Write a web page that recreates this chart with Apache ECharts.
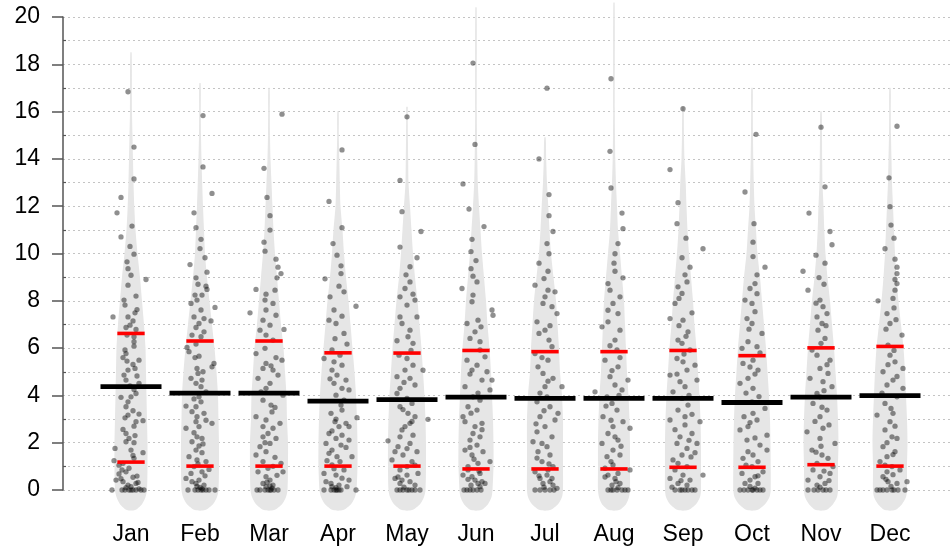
<!DOCTYPE html>
<html><head><meta charset="utf-8">
<script src="https://cdn.jsdelivr.net/npm/echarts/dist/echarts.min.js"></script>
<style>html,body{margin:0;padding:0;background:#fff}#c{width:952px;height:552px}</style>
</head><body><div id="c"></div>
<script>
const months = ['Jan','Feb','Mar','Apr','May','Jun','Jul','Aug','Sep','Oct','Nov','Dec'];
const yTicks = [0,2,4,6,8,10,12,14,16,18,20];
const meanValues  = [4.37,4.10,4.10,3.76,3.82,3.93,3.87,3.87,3.87,3.70,3.93,3.99];
const lowerValues = [1.18,1.01,1.01,1.01,1.01,0.89,0.89,0.89,0.96,0.96,1.07,1.01];
const upperValues = [6.62,6.30,6.30,5.80,5.79,5.90,5.85,5.85,5.90,5.68,6.01,6.07];
const maxValues   = [18.5,17.2,17.0,16.0,16.2,20.4,14.9,20.6,16.2,17.0,16.0,17.0];

// violin density profile (arbitrary units) at these value levels
const densityLevels = [-0.85,-0.6,-0.3,0,1,2,3,4,5,6,7,8,9,10,11,12,13,14,15,16];
const densJan = [4,11,14.5,16,16.5,16.5,16,15.5,15,14.5,13,11,9,6.5,4.5,3.3,2.5,2,1.5,1];
const densFeb = [5,13,17,18.5,19,19,18.5,18,16.5,14.5,12,9.5,7,5,4,3,2.2,1.5,1,0.8];
const densMar = [5,13,17,18.5,19,19,18,17.5,16,14.5,12,10,8,6,4.5,3.5,2.5,1.5,1,0.8];
const densApr = [5,13,17,18.5,19.5,19.5,19,18,16.5,14.5,12.5,10.5,8,6,4.5,2.5,1.8,1.3,0.8,0.7];
const densMay = [5,13,17,18.5,19,19,18.5,17.5,16,14.5,12.5,10.5,8,6,4.5,3,1.5,1.2,0.9,0.7];
const densJun = [5,12,15.5,16.5,17.5,17.5,17,16,15,13.5,11.5,10,8,6,4.5,3,1.8,1.3,1,0.8];
const densJul = [5,13,17,18,18,18,18,17,15,14,12.5,11,8.5,6,4.5,3.3,2,1.2,0.8,0.7];
const densAug = [5,12,15,16,16,16,15.5,14.5,13,12,11,10,8,6,4,3,2,1.3,1,0.8];
const densSep = [5,13,17,18,18,18,17.5,16.5,15,13.5,11.5,10,8,6,4.5,3.5,2.7,1.5,1,0.8];
const densOct = [5,13,17.5,18.7,18.7,18.5,18,17,15.5,14,12,10,8,5.5,4,2.5,1.8,1.3,1,0.8];
const densNov = [5,12,16,17,17,17.5,17,16,14.5,13,11,9,6.5,4.5,3.3,2.5,1.5,1.2,1,0.8];
const densDec = [5,12,16,17,17,17.5,17,16,15,13.5,11,8.5,6.5,5,4,3,2,1.5,1,0.8];
const densTail = 0.7;

// observations: [value, horizontal jitter]
const ptsJan = [[16.84,-3],[14.5,3],[13.15,3],[12.37,-10],[11.72,-14],[11.16,1],[10.7,-10],[10.3,-1],[9.97,3],[9.65,-4],[9.36,-3],[9.08,0],[8.9,15],
[8.66,-3],[8.2,5],[8.03,-7],[7.82,-6],[7.63,6],[7.49,4],[7.32,-18],[7.32,-3],[7.15,2],[6.97,-1],[6.87,-5],[6.79,5],[6.55,-4],[6.48,3],[6.27,3],[6.08,3],[5.92,-6],[5.77,-5],[5.6,-8],[5.49,8],[5.31,2],[5.14,4],[5.07,-3],[4.82,6],[4.86,-7],[4.65,-5],[4.51,8],[4.25,3],[4.08,5],[3.92,-10],[3.94,0],[3.73,-3],[3.52,-5],[3.35,2],[3.21,8],[3.17,-3],[2.93,12],[2.89,5],[2.7,3],[2.56,-8],[2.39,-5],[2.18,-2],[2.04,-5],[2.0,3],[1.76,-16],[1.69,0],[1.58,12],[1.46,2],[1.34,3],[1.24,-17],[1.13,-8],[0.92,-2],[0.77,-5],[0.68,-12],[0.59,6],[0.54,2],[0.42,-15],[0.35,-8],[0.28,5],[0.21,-3],[0,-19],[0,-6],[0,-2],[0,2],[0,5],[0,10],[0,13],[0.14,0],
[5.45,-4],[4.4,-1],[3.05,-6],[2.3,4],[1.05,-12],[0.85,-9],[0.48,-10],[0.32,7],[0.1,-5],[0.05,8],[0,0],[0,-9]];
const ptsFeb = [[15.83,3],[13.66,3],[12.54,12],[11.72,-6],[11.09,-4],[10.6,1],[10.21,0],[9.82,5],[9.53,-10],[9.21,7],[8.97,-4],
[8.48,7],[8.7,-2],[8.62,6],[8.24,2],[8.24,-5],[8.03,-3],[7.72,15],[7.89,-9],[7.61,1],[7.32,-6],[7.25,4],[7.15,11],[7.04,-1],[6.87,-4],[6.69,4],[6.55,-8],[6.48,1],[6.17,-4],[6.03,-13],[5.85,-11],[5.66,-1],[5.6,-5],[5.35,14],[5.21,12],[5.14,-3],[4.93,-2],[4.72,-9],[4.65,2],[4.51,-4],[4.37,1],[4.15,6],[3.94,-1],[3.73,1],[3.55,-14],[3.52,-4],[3.31,-8],[3.24,4],[3.1,-3],[2.89,-4],[2.82,12],[2.68,-1],[2.61,-14],[2.42,-6],[2.25,-3],[2.18,2],[2.04,-8],[1.86,-1],[1.69,-4],[1.58,2],[1.41,-11],[1.27,-3],[1.2,6],[0.99,-6],[0.87,9],[0.77,2],[0.7,-9],[0.49,-14],[0.42,-1],[0.28,-4],[0.21,4],[0,-12],[0,-2],[0,1],[0,3],[0,6],[0,15],[0.11,0],
[5.0,3],[3.85,-6],[2.95,6],[1.95,3],[1.1,-2],[0.6,5],[0.35,-8],[0.15,-3],[0.05,2],[0,-5],[0,9]];
const ptsMar = [[15.89,13],[13.6,-5],[12.37,-2],[11.6,1],[10.99,1],[10.48,-5],[10.1,-4],[9.76,7],[9.42,9],[9.15,12],[8.97,8],
[8.48,-13],[8.28,-3],[8.45,6],[8.03,-4],[7.89,4],[7.49,-19],[7.61,-3],[7.39,7],[6.79,15],[7.18,-6],[6.97,1],[6.76,-9],[6.55,-3],[6.34,4],[5.99,-4],[5.77,-13],[5.6,7],[5.49,13],[5.35,-3],[5.14,-6],[5.07,4],[4.86,9],[4.72,-11],[4.51,1],[4.3,-3],[4.01,14],[3.8,-6],[3.59,2],[3.49,6],[3.1,-13],[2.96,-3],[2.82,11],[2.68,-6],[2.61,4],[2.39,-1],[2.25,-6],[2.18,7],[1.97,1],[1.83,-9],[1.62,-3],[1.48,-13],[1.38,6],[1.2,-6],[1.13,12],[0.92,-1],[0.77,-11],[0.77,14],[0.56,-3],[0.42,1],[0.28,-6],[0.21,4],[0,-9],[0,-4],[0,-1],[0,1],[0,2],[0,5],[0.14,-3],[0.17,1],
[5.25,2],[4.15,-8],[3.3,3],[2.0,-4],[1.0,4],[0.62,8],[0.33,-2],[0.08,3],[0,-12],[0,9]];
const ptsApr = [[14.38,4],[12.2,-9],[11.09,4],[10.42,-5],[9.93,-1],[9.48,3],[9.15,3],[8.93,-13],
[8.62,1],[8.38,6],[8.17,-8],[7.77,18],[7.61,-4],[7.35,4],[7.18,-9],[7.04,-2],[6.62,6],[6.17,9],[5.92,-6],[5.56,-14],[5.42,-4],[5.28,4],[5.07,-6],[4.86,-1],[4.65,8],[4.51,-4],[4.3,4],[4.23,11],[4.01,-2],[3.59,3],[3.38,4],[3.24,-7],[3.06,19],[2.89,-3],[2.82,8],[2.68,1],[2.68,11],[2.39,-9],[2.32,4],[2.18,-2],[2.11,11],[1.97,-12],[1.9,3],[1.69,-6],[1.55,-9],[1.41,-1],[1.41,14],[1.24,-11],[1.06,-6],[0.85,6],[0.7,-14],[0.63,-2],[0.42,11],[0.35,-12],[0.28,-7],[0.21,1],[0,-14],[0,-7],[0,-4],[0,-2],[0,-1],[0,1],[0,18],[0.14,9],[0.14,-6],
[6.4,-3],[5.7,2],[4.7,-8],[3.8,6],[3.0,-2],[2.5,-6],[1.8,8],[1.2,2],[0.9,-4],[0.5,4],[0.1,-2],[0,3]];
const ptsMay = [[15.78,0],[13.09,-7],[11.77,-5],[10.93,14],[10.27,-7],[9.82,10],[9.44,3],[9.1,-1],
[8.8,3],[8.28,6],[8.17,-7],[8.03,8],[7.82,0],[7.32,-7],[7.32,10],[6.76,3],[6.31,-10],[6.2,6],[5.7,-8],[5.56,0],[5.28,6],[5.07,16],[4.79,-10],[4.72,3],[4.44,8],[4.3,-7],[3.87,0],[3.66,5],[2.99,21],[3.52,-7],[3.24,1],[3.1,8],[2.68,-2],[2.54,-5],[2.08,-19],[2.32,6],[1.83,-9],[1.97,3],[1.62,-12],[1.62,10],[1.48,-4],[1.27,-15],[1.2,5],[0.85,-7],[0.7,11],[0.49,-12],[0.63,0],[0.35,3],[0.28,-7],[0.21,8],[0,-4],[0,0],[0,2],[0,5],[0,-10],[0,13],
[8.52,-2],[7.04,-5],[6.48,1],[5.07,-2],[4.08,-10],[2.82,3],[2.25,-7],[0.99,0],[0.42,-5],
[5.9,4],[4.55,-3],[3.4,-4],[2.9,5],[1.75,0],[1.05,8],[0.55,-9],[0.12,-3],[0,-7],[0,8]];
const ptsJun = [[18.05,-3],[14.61,-1],[12.94,-13],[11.88,-7],[11.14,8],[10.6,-4],[10.08,-5],[9.7,0],[9.36,-5],[9.04,-3],
[8.52,-14],[8.8,1],[8.24,-3],[7.61,16],[7.39,17],[7.04,-9],[7.18,2],[6.69,-1],[6.41,-6],[6.27,4],[5.63,9],[5.49,-9],[5.28,1],[5.07,-4],[5.0,11],[4.65,6],[4.65,16],[4.37,-11],[4.23,14],[3.94,-3],[3.8,4],[3.52,-8],[3.38,1],[2.89,-11],[2.82,6],[2.39,-3],[2.25,4],[2.11,-6],[1.9,1],[1.69,-11],[1.62,7],[1.48,-4],[1.2,14],[1.13,2],[0.85,-8],[0.7,4],[0.56,-4],[0.42,-1],[0.35,6],[0.63,-13],[0,-9],[0,-6],[0,-3],[0.28,2],[0.28,9],[0.14,4],
[7.96,-4],[5.92,4],[3.1,-13],[2.68,-1],[0.99,-8],[0,1],
[6.9,5],[4.9,-6],[4.1,2],[3.25,-5],[2.55,6],[1.8,-6],[1.3,-2],[0.8,3],[0.45,-8],[0.2,-5],[0,-12],[0,5]];
const ptsJul = [[16.99,2],[14.0,-6],[12.49,4],[11.6,4],[10.93,8],[10.42,2],[9.99,4],[9.59,-6],[9.25,3],[8.94,-1],
[8.66,-10],[8.45,3],[8.38,10],[8.17,0],[7.11,-8],[7.75,7],[7.46,12],[6.76,0],[6.62,-6],[6.34,4],[6.06,7],[5.49,3],[5.21,-7],[4.93,-2],[4.72,8],[4.37,17],[4.37,0],[3.73,-8],[3.52,5],[3.24,13],[3.1,-5],[2.96,10],[2.68,0],[2.46,-8],[2.25,7],[1.97,-3],[1.83,2],[1.62,-7],[1.48,5],[1.2,-3],[0.99,8],[0.77,-10],[0.63,2],[0.49,-5],[0.49,7],[0.28,-2],[0,-10],[0,-5],[0,0],[0,5],[0.21,8],
[7.89,-2],[5.77,-10],[3.94,2],[2.04,-12],[0.85,3],[0.07,12],
[6.95,5],[5.6,-3],[4.6,3],[4.1,-5],[3.35,-1],[2.8,-9],[1.35,-8],[1.1,4],[0.6,-6],[0.35,5],[0.12,-1],[0,9]];
const ptsAug = [[17.39,-3],[14.32,-4],[12.77,-3],[11.71,8],[11.05,9],[10.42,4],[9.99,1],[9.59,0],[9.25,1],[8.97,9],
[8.45,-4],[8.17,6],[7.89,-1],[7.46,4],[7.11,-6],[6.9,-12],[6.76,6],[6.34,1],[5.49,-9],[5.21,4],[4.65,14],[4.79,-4],[4.44,1],[4.23,8],[4.15,-19],[3.66,-2],[3.38,3],[2.89,9],[3.1,-11],[2.68,-1],[2.61,16],[2.39,-6],[2.11,4],[1.97,-12],[1.69,-1],[1.48,6],[1.41,-7],[1.06,-1],[0.85,16],[0.7,4],[0.63,-6],[0.49,1],[0.28,6],[0.21,-2],[0,-6],[0,-1],[0,3],[0,8],[0,14],
[8.73,-6],[5.92,3],[3.94,-7],[2.25,1],[0.92,-9],
[7.6,-6],[6.1,-4],[5.6,6],[5.05,-2],[4.0,5],[3.55,-8],[2.95,-3],[1.85,7],[1.2,-3],[0.55,-9],[0.35,2],[0.1,4],[0,-3],[0,11]];
const ptsSep = [[16.12,0],[13.55,-13],[12.15,-5],[11.26,-6],[10.65,3],[10.2,20],[9.82,-1],[9.42,7],[9.1,2],
[8.8,4],[8.31,-1],[8.1,-4],[7.89,-8],[7.49,9],[7.25,-13],[7.18,0],[6.69,5],[6.34,-5],[6.2,-1],[5.56,-6],[5.42,0],[5.28,12],[5.07,4],[4.86,-13],[4.65,14],[4.58,-3],[4.37,2],[4.15,-10],[3.87,-1],[3.59,5],[3.38,-5],[2.96,-13],[2.89,17],[2.75,2],[2.39,9],[2.25,-3],[1.97,14],[1.97,-6],[1.76,4],[1.58,12],[1.48,-1],[1.27,-10],[0.99,4],[0.63,20],[0.49,-13],[0.63,0],[0.42,7],[0.28,-5],[0,-8],[0,-3],[0,2],[0,5],[0,9],[0.21,4],
[8.59,-5],[5.92,7],[3.1,2],[1.13,-5],
[6.95,-4],[6.5,3],[5.75,1],[4.9,-6],[4.0,6],[3.2,9],[2.55,-8],[2.1,6],[1.4,8],[0.85,-8],[0.4,-2],[0.12,-11],[0,-1],[0,12]];
const ptsOct = [[15.04,4],[12.6,-7],[11.26,2],[10.48,1],[9.87,1],[9.42,13],[9.1,5],
[8.73,3],[8.52,-2],[8.03,-7],[7.89,0],[7.54,3],[7.25,-5],[6.62,10],[6.27,-4],[5.99,-10],[6.06,5],[5.49,1],[5.35,-9],[5.07,6],[4.72,-4],[4.51,-12],[4.3,1],[3.45,13],[3.24,1],[2.96,5],[2.68,-4],[2.32,15],[2.11,-5],[1.9,8],[1.69,15],[1.62,-4],[1.34,-9],[1.2,6],[0.99,0],[0.7,-10],[0.77,11],[0.56,3],[0.42,-2],[0.28,-7],[0.28,6],[0,1],[0,0],[0,-4],[0,5],[0,-12],[0,11],
[7.04,0],[3.73,0],[2.54,-12],[1.48,1],
[8.3,5],[6.8,-3],[5.8,8],[5.2,-2],[4.9,3],[4.1,-6],[3.95,7],[3.1,-8],[2.85,-2],[2.2,3],[1.05,-6],[0.6,6],[0.15,-2],[0.08,3],[0,-8],[0,8]];
const ptsNov = [[15.34,0],[12.82,4],[11.71,-12],[10.93,9],[10.37,11],[9.93,-5],[9.59,4],[9.25,-18],[8.98,-2],
[8.45,-13],[8.03,-1],[7.75,2],[7.46,6],[7.04,1],[6.76,-3],[6.41,4],[5.92,-9],[5.49,9],[5.14,-1],[4.72,-11],[4.58,2],[4.37,11],[4.08,-4],[3.66,-8],[3.38,6],[3.1,-1],[2.46,-14],[2.61,2],[1.97,14],[1.69,-9],[1.48,1],[1.34,7],[1.13,-4],[0.85,-8],[0.7,9],[0.56,-1],[0.42,-13],[0.28,4],[0.21,-4],[0,-13],[0,-3],[0,2],[0,9],
[7.32,-4],[4.93,7],[2.18,-1],[0.99,12],[3.94,-1],
[8.7,3],[7.9,-5],[6.95,5],[6.2,0],[5.7,-4],[5.3,6],[4.2,3],[3.5,1],[2.9,-6],[2.75,8],[1.85,0],[1.6,-5],[0.8,3],[0.4,8],[0.12,-1],[0,5],[0,-7]];
const ptsDec = [[15.38,7],[13.2,-1],[11.98,0],[11.2,1],[10.65,4],[10.2,-5],[9.76,5],[9.42,7],[9.15,7],[8.9,5],
[8.73,7],[8.45,5],[8.1,3],[8.0,-12],[7.46,-3],[7.04,0],[6.55,12],[5.7,0],[5.42,5],[5.14,13],[5.0,-7],[4.65,3],[4.44,-3],[4.3,13],[3.66,-5],[3.24,3],[3.17,-13],[2.89,0],[2.54,-5],[2.18,7],[1.83,-7],[1.62,5],[1.41,-3],[1.2,-10],[0.99,2],[0.77,-3],[0.56,-7],[0.35,17],[0.35,-2],[0.28,7],[0,-13],[0,-7],[0,-3],[0,2],[0,8],[0,15],
[6.13,-2],[3.94,7],[2.25,2],[0.85,10],
[7.7,4],[7.2,6],[6.8,-4],[5.9,4],[5.3,-2],[4.8,7],[4.1,-8],[3.45,1],[2.7,5],[2.0,-3],[1.5,3],[1.05,-5],[0.65,3],[0.45,-4],[0.15,1],[0,4],[0,-10]];

const densities = [densJan,densFeb,densMar,densApr,densMay,densJun,densJul,densAug,densSep,densOct,densNov,densDec];
const points = [ptsJan,ptsFeb,ptsMar,ptsApr,ptsMay,ptsJun,ptsJul,ptsAug,ptsSep,ptsOct,ptsNov,ptsDec];

const DENS_SCALE = 1/69;   // density unit -> fraction of category band
const JITTER_SCALE = 1/69; // jitter unit -> fraction of category band
const FONT = 'Liberation Sans, Arial, sans-serif';

const scatterData = [];
points.forEach((arr, i) => arr.forEach(p => scatterData.push([i + p[1]*JITTER_SCALE, p[0]])));

function violinItem(params, api) {
  const i = api.value(0);
  const dens = densities[i], top = maxValues[i];
  const left = [], right = [];
  for (let k = 0; k < densityLevels.length; k++) {
    const y = densityLevels[k];
    if (y >= top) break;
    const h = dens[k] * DENS_SCALE;
    left.push(api.coord([i - h, y]));
    right.push(api.coord([i + h, y]));
  }
  const ht = densTail * DENS_SCALE;
  left.push(api.coord([i - ht, top]));
  right.push(api.coord([i + ht, top]));
  const pts = left.concat(right.reverse());
  return {type:'polygon', shape:{points:pts, smooth:0.25}, style:{fill:'#e6e6e6', stroke:null}};
}

function barLine(v, i, api, frac, thick, color) {
  const c = api.coord([i, v]);
  const w = api.size([1, 0])[0] * frac;
  return {type:'rect', shape:{x:c[0]-w/2, y:c[1]-thick/2, width:w, height:thick}, style:{fill:color}};
}

const chart = echarts.init(document.getElementById('c'), null, {renderer:'canvas'});
chart.setOption({
  animation:false,
  backgroundColor:'#fff',
  grid:[
    {left:63, right:2, top:17, bottom:62},
    {left:96.5, right:27.5, top:17, bottom:62}
  ],
  xAxis:[
    {gridIndex:0, type:'value', min:0, max:1, show:false},
    {gridIndex:1, type:'category', data:months, boundaryGap:true,
      axisLine:{show:false}, axisTick:{show:false}, splitLine:{show:false},
      axisLabel:{fontSize:23, color:'#000', margin:33, fontFamily:FONT}},
    {gridIndex:1, type:'value', min:-0.5, max:11.5, show:false}
  ],
  yAxis:[
    {gridIndex:0, type:'value', position:'left', min:yTicks[0], max:yTicks[yTicks.length-1], interval:2,
      axisLine:{show:true, lineStyle:{color:'#555', width:1.5}},
      axisTick:{show:true, length:11, lineStyle:{color:'#555', width:1.5}},
      axisLabel:{fontSize:23, color:'#000', margin:23, fontFamily:FONT},
      splitLine:{show:true, lineStyle:{color:'#c4c4c4', width:1, type:[2,3]}},
      minorTick:{show:false, splitNumber:2},
      minorSplitLine:{show:true, lineStyle:{color:'#c4c4c4', width:1, type:[2,3]}}},
    {gridIndex:1, type:'value', min:0, max:20, show:false},
    {gridIndex:0, type:'value', position:'left', offset:0, min:yTicks[0], max:yTicks[yTicks.length-1], interval:2,
      axisLine:{show:false}, axisLabel:{show:false}, splitLine:{show:false},
      axisTick:{show:false, inside:true},
      minorTick:{show:true, splitNumber:2, length:3, lineStyle:{color:'#555', width:1.2}},
      minorSplitLine:{show:false}}
  ],
  series:[
    {type:'custom', xAxisIndex:2, yAxisIndex:1, renderItem:violinItem, clip:false,
      data:months.map((m,i)=>[i]), silent:true, z:1},
    {type:'scatter', xAxisIndex:2, yAxisIndex:1, data:scatterData, symbolSize:5.3,
      clip:false, itemStyle:{color:'rgba(0,0,0,0.55)'}, silent:true, z:2},
    {type:'custom', xAxisIndex:2, yAxisIndex:1, clip:false, silent:true, z:3,
      data:months.map((m,i)=>[i, lowerValues[i], upperValues[i]]),
      renderItem:(p, api)=>{
        const i = api.value(0);
        return {type:'group', children:[
          barLine(api.value(1), i, api, 0.396, 3.6, '#ff0000'),
          barLine(api.value(2), i, api, 0.396, 3.6, '#ff0000')
        ]};
      }},
    {type:'custom', xAxisIndex:2, yAxisIndex:1, clip:false, silent:true, z:4,
      data:months.map((m,i)=>[i, meanValues[i]]),
      renderItem:(p, api)=>barLine(api.value(1), api.value(0), api, 0.884, 4.8, '#000')}
  ]
});
</script></body></html>
